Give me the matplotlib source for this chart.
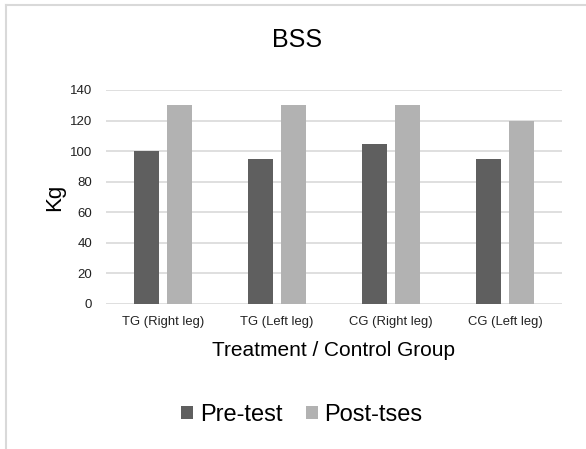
import matplotlib
matplotlib.use("Agg")
import matplotlib.pyplot as plt
from matplotlib.lines import Line2D
from matplotlib.patches import Patch
import numpy as np

categories = ["TG (Right leg)", "TG (Left leg)", "CG (Right leg)", "CG (Left leg)"]
pre_test = [100, 95, 105, 95]
post_tses = [130, 130, 130, 120]
series_names = ["Pre-test", "Post-tses"]
yticks = [0, 20, 40, 60, 80, 100, 120, 140]

plt.rcParams['font.family'] = ['Liberation Sans', 'DejaVu Sans']

W, H = 586, 449
fig = plt.figure(figsize=(W / 100, H / 100), dpi=100)
fig.patch.set_facecolor("white")

# outer chart frame (light grey), top and left visible
fig.add_artist(Line2D([6 / W, 1.0], [1 - 4.5 / H, 1 - 4.5 / H], color="#d9d9d9", lw=1.5,
                      transform=fig.transFigure))
fig.add_artist(Line2D([6 / W, 6 / W], [0, 1 - 4.5 / H], color="#d9d9d9", lw=1.5,
                      transform=fig.transFigure))

ax_left, ax_right = 106, 562
ax_top, ax_bottom = 90, 304
ax = fig.add_axes([ax_left / W, 1 - ax_bottom / H, (ax_right - ax_left) / W,
                   (ax_bottom - ax_top) / H])

x = np.arange(len(categories))
bw = 0.22
off = 0.145
c_pre = "#5f5f5f"
c_post = "#b2b2b2"
ax.bar(x - off, pre_test, width=bw, color=c_pre, zorder=3)
ax.bar(x + off, post_tses, width=bw, color=c_post, zorder=3)

ax.set_xlim(-0.5, len(categories) - 0.5)
ax.set_ylim(0, 140)
ax.set_yticks(yticks)
ax.set_yticklabels([str(v) for v in yticks], fontsize=9.5, color="#222222")
ax.set_xticks(x)
ax.set_xticklabels(categories, fontsize=9.4, color="#222222")
ax.tick_params(axis="both", length=0)
ax.tick_params(axis="y", pad=10)
ax.tick_params(axis="x", pad=9)
ax.grid(axis="y", color="#d9d9d9", lw=1.2, zorder=0)
for s in ax.spines.values():
    s.set_visible(False)

fig.text(297 / W, 1 - 40 / H, "BSS", ha="center", va="center", fontsize=18, color="#000000")
fig.text(55 / W, 1 - 197 / H, "Kg", ha="center", va="center", rotation=90, fontsize=16)
fig.text(333 / W, 1 - 350 / H, "Treatment / Control Group", ha="center", va="center", fontsize=15)

handles = [Patch(facecolor=c_pre, edgecolor="none"), Patch(facecolor=c_post, edgecolor="none")]
fig.legend(handles, series_names, loc="center", bbox_to_anchor=(302 / W, 1 - 415 / H),
           ncol=2, frameon=False, fontsize=17, handlelength=0.5, handleheight=0.5,
           handletextpad=0.28, columnspacing=1.0, borderpad=0, borderaxespad=0)

fig.savefig("out.png", dpi=100, facecolor="white")
